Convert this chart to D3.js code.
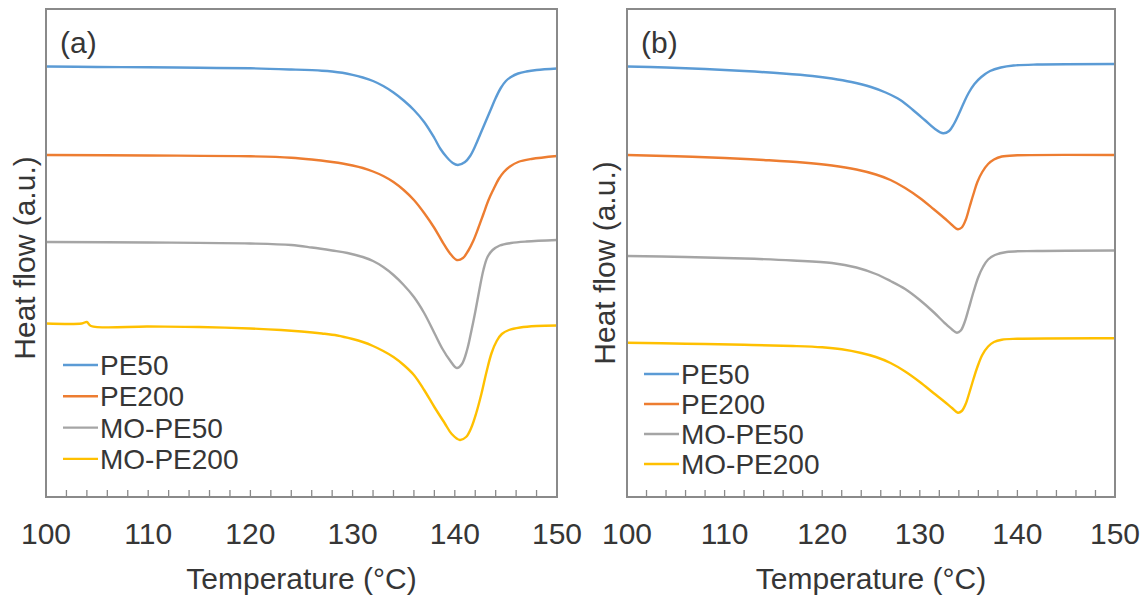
<!DOCTYPE html>
<html>
<head>
<meta charset="utf-8">
<script src="https://cdn.jsdelivr.net/npm/d3@7"></script>
<style>
    body { margin: 0; background: #fff; }
    svg text { font-family: Arial, "Liberation Sans", sans-serif; fill: #363636; }
</style>
</head>
<body>
<div id="chart"></div>
<script>
// DSC melting curves, two panels (a) and (b)
// values: [temperature °C, heat flow a.u. (offset, curves stacked)]

const seriesNames = ['PE50', 'PE200', 'MO-PE50', 'MO-PE200'];
const seriesColors = ['#5b9bd5', '#ed7d31', '#a5a5a5', '#ffc000'];
const xTicks = [100, 110, 120, 130, 140, 150];

// panel (a)
const aPE50 = [[100,-5.75],[105,-5.8],[110,-5.83],[115,-5.88],[120,-5.93],[124,-6.05],[127,-6.17],[128,-6.25],[129,-6.38],[130,-6.58],[131,-6.85],[132,-7.2],[133,-7.7],[134,-8.35],[135,-9.15],[136,-10.1],[137,-11.3],[138,-12.9],[138.6,-14.0],[139.2,-14.8],[139.8,-15.4],[140.3,-15.6],[141,-15.3],[141.5,-14.7],[142,-13.7],[142.5,-12.5],[143,-11.3],[143.5,-10.1],[144,-8.9],[144.5,-7.9],[145,-7.2],[145.5,-6.8],[146.2,-6.45],[147,-6.25],[148,-6.1],[150,-5.95]];
const aPE200 = [[100,-14.6],[110,-14.65],[120,-14.73],[124,-14.87],[126,-15.05],[128,-15.3],[129,-15.45],[130,-15.65],[131,-15.9],[132,-16.25],[133,-16.7],[134,-17.3],[135,-18.1],[136,-19.1],[137,-20.4],[138,-21.9],[138.8,-23.3],[139.5,-24.4],[140.2,-25.1],[140.8,-24.9],[141.3,-24.2],[141.8,-23.2],[142.3,-21.9],[142.8,-20.5],[143.3,-19.1],[143.8,-18.0],[144.3,-17.0],[144.8,-16.3],[145.4,-15.75],[146.2,-15.3],[147.5,-15.0],[150,-14.7]];
const aMOPE50 = [[100,-23.3],[110,-23.35],[120,-23.45],[124,-23.6],[126,-23.85],[128,-24.15],[129.5,-24.4],[131,-24.8],[132,-25.2],[133,-25.8],[134,-26.6],[135,-27.6],[136,-28.8],[137,-30.4],[138,-32.4],[138.8,-34.0],[139.5,-35.1],[140.2,-35.9],[140.7,-35.5],[141.2,-34.1],[141.6,-32.3],[142,-30.3],[142.4,-28.1],[142.8,-26.1],[143.2,-24.8],[143.7,-24.1],[144.4,-23.65],[145.5,-23.4],[147,-23.25],[150,-23.1]];
const aMOPE200 = [[100,-31.45],[103.5,-31.45],[104,-31.3],[104.4,-31.7],[110,-31.75],[115,-31.8],[120,-31.95],[123,-32.1],[125,-32.25],[127,-32.45],[128.5,-32.65],[130,-33.0],[131,-33.3],[132,-33.7],[133,-34.2],[134,-34.8],[135,-35.6],[136,-36.6],[137,-38.1],[138,-39.8],[139,-41.4],[139.7,-42.5],[140.5,-43.1],[141.1,-42.8],[141.6,-41.9],[142.1,-40.4],[142.6,-38.5],[143.1,-36.3],[143.6,-34.4],[144.1,-33.2],[144.6,-32.5],[145.3,-32.1],[146.4,-31.85],[148,-31.7],[150,-31.65]];

// panel (b)
const bPE50 = [[100,-5.75],[104,-5.85],[108,-6.0],[112,-6.2],[116,-6.45],[119,-6.7],[121,-6.95],[123,-7.3],[125,-7.8],[126.5,-8.35],[128,-9.1],[129.3,-10.1],[130.5,-11.1],[131.5,-11.95],[132.4,-12.43],[133,-12.2],[133.5,-11.5],[134,-10.5],[134.5,-9.4],[135,-8.4],[135.6,-7.5],[136.3,-6.8],[137.2,-6.2],[138.3,-5.85],[139.6,-5.65],[142,-5.55],[150,-5.5]];
const bPE200 = [[100,-14.6],[105,-14.73],[110,-14.9],[114,-15.1],[118,-15.35],[121,-15.65],[123.5,-16.05],[125.5,-16.55],[127,-17.1],[128.5,-17.9],[130,-18.9],[131.4,-20.0],[132.5,-20.9],[133.3,-21.6],[133.9,-22.03],[134.3,-21.85],[134.7,-21.1],[135.1,-19.8],[135.5,-18.5],[135.9,-17.3],[136.4,-16.3],[137,-15.5],[137.6,-15.05],[138.4,-14.75],[140,-14.63],[150,-14.6]];
const bMOPE50 = [[100,-24.7],[106,-24.8],[112,-24.95],[117,-25.15],[121,-25.4],[123.5,-25.85],[125.5,-26.5],[127,-27.2],[128.5,-28.0],[130,-29.1],[131.4,-30.3],[132.6,-31.45],[133.3,-32.05],[133.8,-32.37],[134.2,-32.15],[134.6,-31.3],[135,-30.0],[135.5,-28.3],[136,-26.8],[136.5,-25.75],[137,-25.05],[137.7,-24.6],[138.9,-24.3],[142,-24.2],[150,-24.15]];
const bMOPE200 = [[100,-33.37],[106,-33.47],[112,-33.58],[117,-33.7],[120,-33.83],[122,-34.03],[124,-34.4],[125.5,-34.8],[127,-35.4],[128.5,-36.25],[130,-37.3],[131.4,-38.4],[132.5,-39.25],[133.3,-39.9],[133.9,-40.37],[134.3,-40.2],[134.7,-39.5],[135.1,-38.3],[135.5,-37.0],[135.9,-35.8],[136.4,-34.6],[137,-33.75],[137.6,-33.3],[138.4,-33.07],[140,-32.98],[150,-32.93]];

const width = 1148, height = 598;
const svg = d3.select('#chart').append('svg')
    .attr('width', width)
    .attr('height', height);

// disegna un pannello
function drawPanel(p) {
    const x = d3.scaleLinear().domain([100, 150]).range([p.left, p.right]);
    const y = d3.scaleLinear().domain([-48.8, 0]).range([p.bottom, p.top]);
    const g = svg.append('g');

    // tick minori ogni 2 °C, verso l'interno
    const minor = d3.range(102, 150, 2);
    g.selectAll('.tick-min')
        .data(minor)
        .join('line')
        .attr('x1', d => x(d)).attr('x2', d => x(d))
        .attr('y1', p.bottom).attr('y2', p.bottom - 7)
        .attr('stroke', '#8a8a8a')
        .attr('stroke-width', 1.3);

    // linee, curva smooth che passa per i punti
    const lineGen = d3.line()
        .x(d => x(d[0]))
        .y(d => y(d[1]))
        .curve(d3.curveCatmullRom.alpha(0.5));

    g.selectAll('.curva')
        .data(p.series)
        .join('path')
        .attr('fill', 'none')
        .attr('stroke', (d, i) => seriesColors[i])
        .attr('stroke-width', 2.4)
        .attr('stroke-linejoin', 'round')
        .attr('d', d => lineGen(d));

    // cornice
    g.append('rect')
        .attr('x', p.left).attr('y', p.top)
        .attr('width', p.right - p.left)
        .attr('height', p.bottom - p.top)
        .attr('fill', 'none')
        .attr('stroke', '#8a8a8a')
        .attr('stroke-width', 2);

    // etichette asse x
    g.selectAll('.xlab')
        .data(xTicks)
        .join('text')
        .attr('x', d => x(d))
        .attr('y', 544)
        .attr('text-anchor', 'middle')
        .style('font-size', '30px')
        .text(d => d);

    g.append('text')
        .attr('x', (p.left + p.right) / 2)
        .attr('y', 589)
        .attr('text-anchor', 'middle')
        .style('font-size', '30px')
        .text('Temperature (°C)');

    g.append('text')
        .attr('transform', `translate(${p.ylabX},${p.ylabY}) rotate(-90)`)
        .attr('text-anchor', 'middle')
        .style('font-size', '30px')
        .text('Heat flow (a.u.)');

    g.append('text')
        .attr('x', p.left + 14)
        .attr('y', 53)
        .style('font-size', '30px')
        .text(p.label);

    // legenda
    const leg = g.append('g')
        .attr('transform', `translate(${p.left + 17},${p.legTop})`);
    seriesNames.forEach((name, i) => {
        const row = leg.append('g').attr('transform', `translate(0,${i * p.legStep})`);
        row.append('line')
            .attr('x1', 0).attr('x2', 35)
            .attr('y1', 0).attr('y2', 0)
            .attr('stroke', seriesColors[i])
            .attr('stroke-width', 2.4);
        row.append('text')
            .attr('x', 37).attr('y', 0)
            .attr('dy', '0.36em')
            .style('font-size', '28px')
            .text(name);
    });
}

drawPanel({
    left: 46, right: 557, top: 9, bottom: 497,
    label: '(a)', ylabX: 35, ylabY: 258,
    legTop: 365, legStep: 31.3,
    series: [aPE50, aPE200, aMOPE50, aMOPE200]
});

drawPanel({
    left: 627, right: 1115, top: 9, bottom: 497,
    label: '(b)', ylabX: 615, ylabY: 263,
    legTop: 374, legStep: 30,
    series: [bPE50, bPE200, bMOPE50, bMOPE200]
});
</script>
</body>
</html>
